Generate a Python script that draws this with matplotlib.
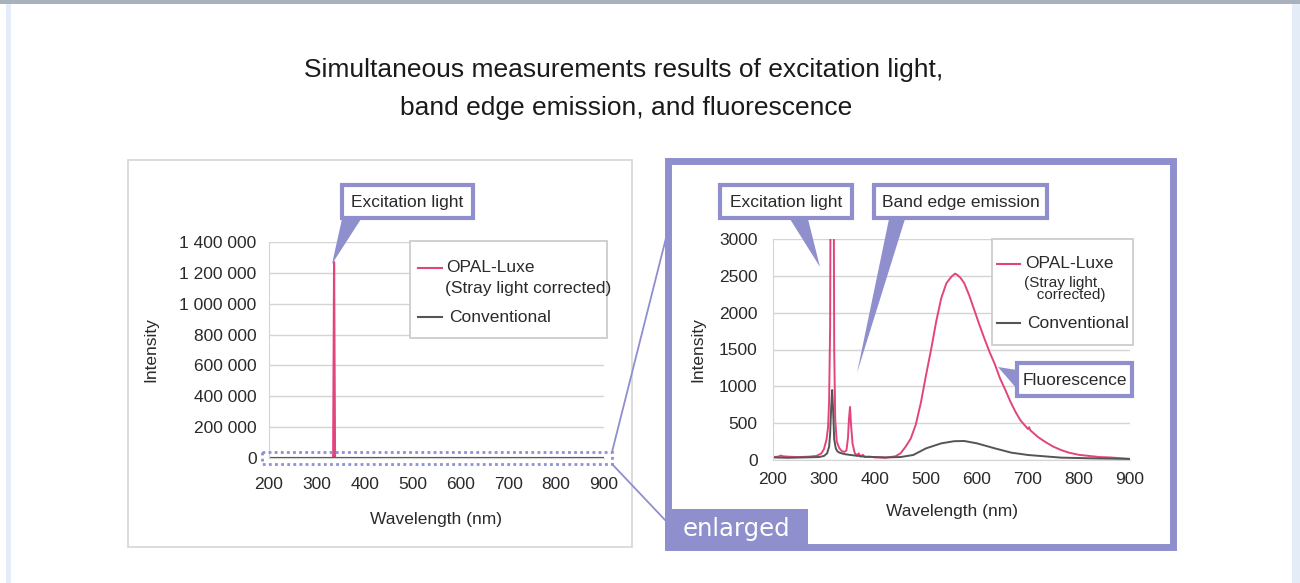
import matplotlib
matplotlib.use("Agg")
import matplotlib.pyplot as plt
from matplotlib.patches import Rectangle, Polygon
from matplotlib.ticker import FuncFormatter

plt.rcParams['font.family'] = ['Liberation Sans', 'DejaVu Sans']

W, H = 1300, 583

# overview (full scale) spectrum
overview_wl = [200, 300, 330, 334, 336, 338, 342, 400, 500, 600, 700, 800, 900]
overview_opal = [0, 0, 0, 0, 1270000, 0, 0, 0, 0, 0, 0, 0, 0]
overview_conv = [0, 0, 0, 0, 2000, 0, 0, 0, 0, 0, 0, 0, 0]

# enlarged spectrum, OPAL-Luxe (stray light corrected)
opal_wl = [200, 210, 215, 220, 230, 250, 270, 285, 295, 300, 305, 308, 310, 312, 313,
           316, 319, 320, 322, 325, 330, 335, 340, 344, 347, 349, 351, 353, 356,
           360, 364, 368, 372, 376, 380, 390, 400, 410, 420, 430, 440, 450, 460,
           470, 480, 490, 500, 510, 520, 530, 540, 550, 557, 562, 568, 575, 585,
           595, 605, 615, 625, 635, 645, 655, 665, 675, 685, 695, 700, 702, 705,
           710, 720, 735, 750, 765, 780, 800, 820, 840, 860, 880, 900]
opal = [40, 45, 60, 50, 45, 40, 45, 55, 90, 150, 280, 450, 800, 1800, 4000,
        1270000, 4000, 1500, 550, 250, 160, 120, 110, 130, 300, 560, 720, 480, 220,
        100, 60, 90, 45, 70, 40, 45, 35, 35, 30, 40, 50, 90, 180,
        290, 480, 780, 1150, 1500, 1880, 2200, 2400, 2490, 2530, 2510, 2470, 2400, 2230,
        2030, 1830, 1640, 1460, 1300, 1110, 960, 800, 660, 540, 460, 420, 445, 400,
        370, 310, 240, 180, 135, 100, 70, 55, 40, 35, 25, 15]

# enlarged spectrum, conventional
conv_wl = [200, 230, 260, 290, 300, 306, 310, 312, 314, 316, 318, 320, 323, 326,
           330, 340, 350, 380, 420, 450, 475, 500, 530, 555, 575, 600, 635, 667,
           700, 765, 830, 900]
conv = [35, 30, 35, 40, 55, 90, 180, 350, 700, 950, 650, 280, 160, 120,
        100, 80, 70, 45, 35, 40, 68, 158, 226, 255, 258, 226, 158, 100,
        68, 32, 22, 14]

overview_yticks = [0, 200000, 400000, 600000, 800000, 1000000, 1200000, 1400000]
zoom_yticks = [0, 500, 1000, 1500, 2000, 2500, 3000]
xticks = [200, 300, 400, 500, 600, 700, 800, 900]

PINK = '#e2457e'
GREY = '#555555'
PURPLE = '#8e8fcc'
GRID = '#d4d4d4'
TXT = '#2a2a2a'


def fr(x0, y0, x1, y1):
    # pixel box (top-left origin) -> figure fraction rect
    return [x0 / W, 1 - y1 / H, (x1 - x0) / W, (y1 - y0) / H]


fig = plt.figure(figsize=(13, 5.83), dpi=100)

bg = fig.add_axes([0, 0, 1, 1], zorder=-1)
bg.set_xlim(0, W)
bg.set_ylim(H, 0)
bg.axis('off')
fg = fig.add_axes([0, 0, 1, 1], zorder=5)
fg.set_xlim(0, W)
fg.set_ylim(H, 0)
fg.axis('off')
fg.patch.set_alpha(0)

# page decoration
bg.add_patch(Rectangle((0, 0), W, 3.5, color='#a9b1bd', lw=0))
bg.add_patch(Rectangle((6, 3.5), 5, H, color='#e4edf7', lw=0))
bg.add_patch(Rectangle((1292, 3.5), 8, H, color='#e4edf7', lw=0))

# left panel frame
bg.add_patch(Rectangle((128, 160), 504, 387, fc='white', ec='#d6d6d6', lw=1.2))
# right panel frame
bg.add_patch(Rectangle((667.5, 160.5), 505, 386, fc='white', ec=PURPLE, lw=5))
# connector lines
bg.plot([612, 666], [452, 238], color=PURPLE, lw=1.3)
bg.plot([612, 666], [464, 521], color=PURPLE, lw=1.3)

fig.text(624 / W, 1 - 70 / H, "Simultaneous measurements results of excitation light,",
         ha='center', va='center', fontsize=19, color='#1a1a1a')
fig.text(626 / W, 1 - 108 / H, "band edge emission, and fluorescence",
         ha='center', va='center', fontsize=19, color='#1a1a1a')


def style_axes(ax, ylim, yticks, ypad, xpad):
    ax.set_xlim(200, 900)
    ax.set_ylim(*ylim)
    ax.set_xticks(xticks)
    ax.set_yticks(yticks)
    ax.grid(axis='y', color=GRID, lw=1)
    ax.set_axisbelow(True)
    ax.tick_params(length=0, labelsize=12.5, labelcolor=TXT)
    ax.tick_params(axis='y', pad=ypad)
    ax.tick_params(axis='x', pad=xpad)
    for s in ['top', 'right']:
        ax.spines[s].set_visible(False)
    ax.spines['left'].set_color(GRID)
    ax.spines['bottom'].set_color(GRID)


def legend_box(box, hx, rows):
    # box: frame in pixels; rows: (y, line colour or None, text x, text, size)
    x0, y0, x1, y1 = box
    fg.add_patch(Rectangle((x0, y0), x1 - x0, y1 - y0, fc='white', ec='#c8c8c8', lw=1.2))
    for y, col, tx, label, size in rows:
        if col:
            fg.plot(hx, [y, y], color=col, lw=1.5)
        fg.text(tx, y, label, ha='left', va='center', fontsize=size, color=TXT,
                linespacing=0.9)


# left: overview chart
ax1 = fig.add_axes(fr(269, 242, 604, 458), zorder=1)
ax1.plot(overview_wl, overview_opal, color=PINK, lw=1.5, label="OPAL-Luxe")
ax1.plot(overview_wl, overview_conv, color=GREY, lw=1.5, label="Conventional")
style_axes(ax1, (0, 1400000), overview_yticks, 9, 14)
ax1.yaxis.set_major_formatter(FuncFormatter(lambda v, p: f"{int(v):,}".replace(",", " ")))
ax1.set_xlabel("Wavelength (nm)", fontsize=12.5, color=TXT, labelpad=14)
ax1.set_ylabel("Intensity", fontsize=12.5, color=TXT, labelpad=15)
legend_box((410, 241, 607, 338), [418, 442],
           [(268, PINK, 446, "OPAL-Luxe", 12.5),
            (289, None, 445, "(Stray light corrected)", 12.5),
            (317, GREY, 449, "Conventional", 12.5)])

# right: enlarged chart
ax2 = fig.add_axes(fr(773, 239, 1130, 460), zorder=1)
ax2.plot(opal_wl, opal, color=PINK, lw=1.4, label="OPAL-Luxe")
ax2.plot(conv_wl, conv, color=GREY, lw=1.4, label="Conventional")
style_axes(ax2, (0, 3000), zoom_yticks, 11, 9)
ax2.set_xlabel("Wavelength (nm)", fontsize=12.5, color=TXT, labelpad=12)
ax2.set_ylabel("Intensity", fontsize=12.5, color=TXT, labelpad=10)
legend_box((992, 239, 1133, 345), [997, 1020],
           [(264, PINK, 1025, "OPAL-Luxe", 12.5),
            (289, None, 1024, "(Stray light\n   corrected)", 11),
            (323, GREY, 1027, "Conventional", 12.5)])

# dotted zoom region on the overview
fg.add_patch(Rectangle((262, 452), 350, 12, fill=False, ec='#8c8fda', lw=2,
                       ls=(0, (1, 1.2))))


def callout(x0, y0, x1, y1, text, tri):
    fg.add_patch(Polygon(tri, closed=True, fc=PURPLE, ec='none'))
    fg.add_patch(Rectangle((x0, y0), x1 - x0, y1 - y0, fc='white', ec=PURPLE, lw=3))
    fg.text((x0 + x1) / 2, (y0 + y1) / 2 + 1, text, ha='center', va='center',
            fontsize=12.5, color=TXT)


callout(342, 185, 473, 218, "Excitation light", [(342, 219), (361, 219), (332, 264)])
callout(720, 185, 852, 218, "Excitation light", [(790, 219), (808, 219), (820, 267)])
callout(874, 185, 1047, 218, "Band edge emission", [(889, 219), (905, 219), (857, 373)])
callout(1017, 363, 1132, 396, "Fluorescence", [(1017, 370), (1017, 389), (998, 367)])

# "enlarged" tab
fg.add_patch(Rectangle((665, 509), 143, 41, fc=PURPLE, ec='none'))
fg.text(736, 529, "enlarged", ha='center', va='center', fontsize=17.5,
        color='white', family=['DejaVu Sans'])

fig.savefig("out.png", dpi=100)
